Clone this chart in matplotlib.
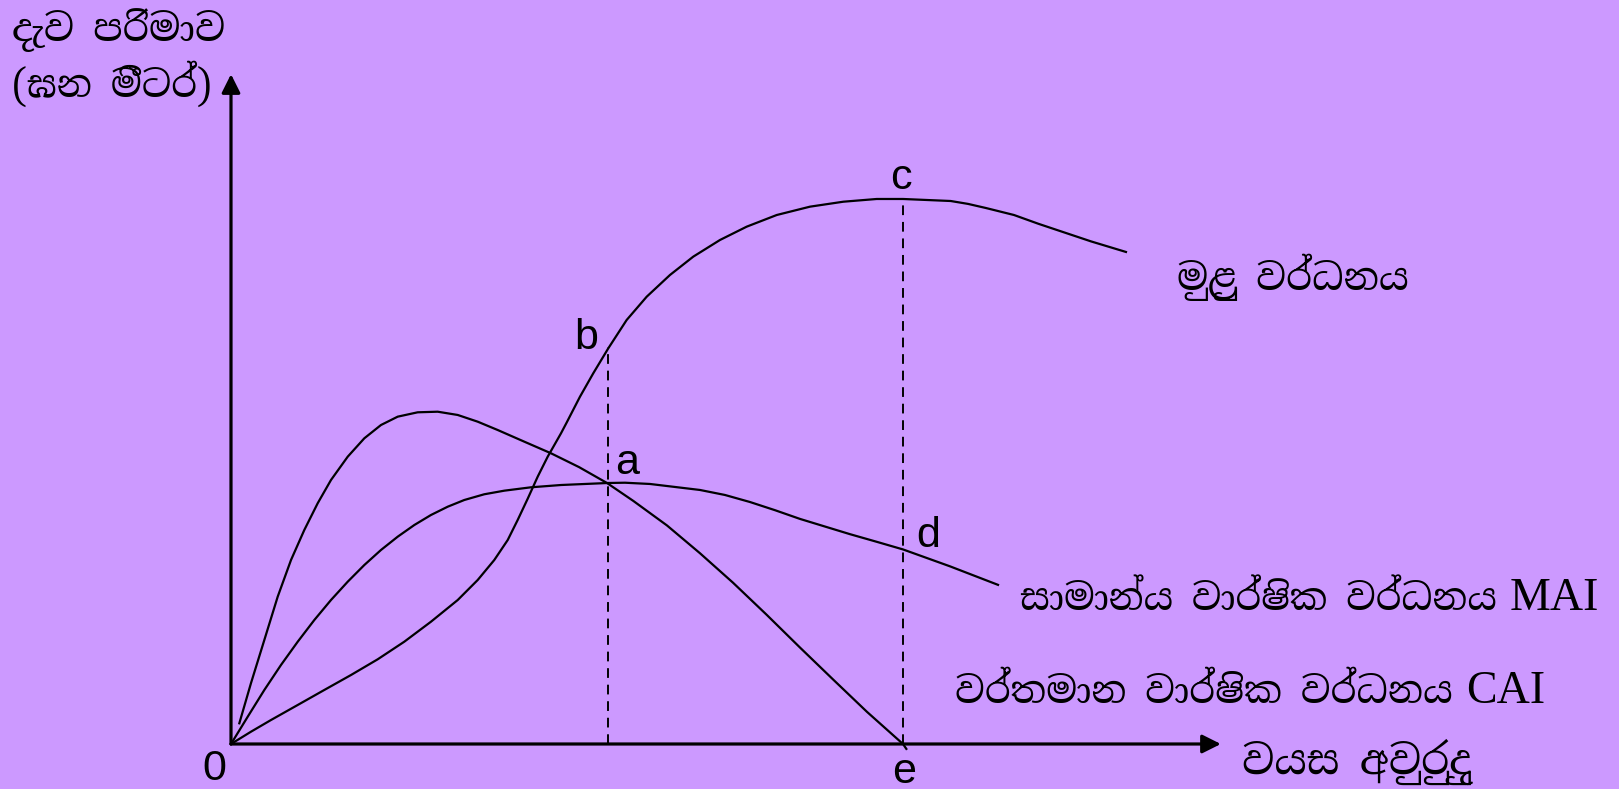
import matplotlib
matplotlib.use("Agg")
import matplotlib.pyplot as plt
from matplotlib import font_manager
from matplotlib.ft2font import FT2Font

# values: age (e = 100) and volume (c = 100)
total_age = [0, 2.98, 5.95, 9.93, 13.88, 17.86, 21.83, 25.79, 29.76, 33.74, 36.71, 39.18,
             41.18, 42.66, 44.15, 45.64, 47.13, 49.11, 49.96, 51.93, 53.91, 56.15, 58.88,
             61.86, 65.33, 68.79, 72.77, 76.74, 81.21, 86.16, 91.12, 96.09, 100, 107.10,
             109.67, 112.32, 116.52, 120.15, 127.98, 133.18]
total_vol = [0, 2.26, 4.40, 7.16, 9.91, 12.66, 15.54, 18.77, 22.44, 26.42, 30.09, 33.76,
             37.43, 41.10, 45.0, 49.05, 52.72, 57.01, 59.0, 63.72, 68.02, 72.61, 77.80,
             82.07, 86.06, 89.42, 92.48, 94.92, 97.06, 98.59, 99.50, 100, 100, 99.63,
             99.10, 98.35, 97.06, 95.45, 92.22, 90.28]

mai_age = [0, 2.49, 4.96, 7.44, 9.93, 12.40, 14.88, 17.37, 19.84, 22.32, 24.81, 27.28,
           29.76, 32.25, 34.72, 37.69, 40.67, 44.64, 49.11, 56.10, 58.63, 62.35, 69.79,
           73.51, 77.23, 80.95, 84.67, 88.39, 92.11, 96.09, 100, 106.99, 114.14]
mai_vol = [0, 5.01, 9.91, 14.50, 18.77, 22.75, 26.42, 29.78, 32.84, 35.60, 38.04, 40.18,
           42.02, 43.54, 44.77, 45.82, 46.48, 47.10, 47.52, 47.89, 47.94, 47.71, 46.61,
           45.69, 44.40, 42.9, 41.3, 39.9, 38.5, 37.1, 35.7, 32.6, 29.2]

cai_age = [1.24, 2.98, 4.96, 6.95, 8.93, 10.91, 12.90, 14.88, 17.37, 19.84, 22.32, 24.81,
           27.78, 30.76, 33.74, 36.71, 39.69, 43.65, 47.62, 51.8, 55.95, 59.87, 64.88,
           69.79, 74.70, 79.72, 84.67, 89.63, 94.64, 100, 100.5]
cai_vol = [3.80, 11.19, 19.08, 27.03, 33.76, 39.27, 44.17, 48.44, 52.72, 56.09, 58.53,
           60.06, 60.86, 60.97, 60.37, 59.14, 57.61, 55.47, 53.34, 50.8, 47.89, 44.6,
           40.1, 35.0, 29.6, 23.7, 17.7, 11.8, 5.9, 0, -0.9]

b_pt = (56.1, 72.8)
c_pt = (100, 100)

ylabel_1 = "දැව පරිමාව"
ylabel_2 = "(ඝන මීටර්)"
xlabel = "වයස අවුරුදු"
total_label = "මුළු වර්ධනය"
mai_label = "සාමාන්ය වාර්ෂික වර්ධනය"
cai_label = "වර්තමාන වාර්ෂික වර්ධනය"

# fonts that have sinhala letters, best first
found = []
for f in font_manager.fontManager.ttflist:
    try:
        if 0x0DB8 in FT2Font(f.fname).get_charmap() and f.name not in found:
            found.append(f.name)
    except Exception:
        pass
sinhala = "DejaVu Sans"
for want in ["Noto Serif Sinhala", "Noto Sans Sinhala", "Sinhala", "Abhaya"]:
    hits = [n for n in found if want in n]
    if hits:
        sinhala = hits[0]
        break
else:
    if found:
        sinhala = found[0]

bg = "#cc99ff"
W, H = 1619, 789
fig = plt.figure(figsize=(W / 100, H / 100), dpi=100, facecolor=bg)
ax = fig.add_axes([0, 0, 1, 1])
ax.set_facecolor(bg)
ax.set_xlim(-34.375, 206.55)
ax.set_ylim(-8.257, 136.51)
ax.axis("off")

def px(x, y):
    return x / W, 1 - y / H

# axes with arrows
arr = dict(arrowstyle="-|>", lw=2.3, color="black", mutation_scale=28, shrinkA=0, shrinkB=0)
ax.annotate("", xy=(0, 122.9), xytext=(0, 0), arrowprops=arr)
ax.annotate("", xy=(147.3, 0), xytext=(0, 0), arrowprops=arr)

ax.plot(total_age, total_vol, color="black", lw=1.6, solid_joinstyle="round")
ax.plot(mai_age, mai_vol, color="black", lw=1.6, solid_joinstyle="round")
ax.plot(cai_age, cai_vol, color="black", lw=1.6, solid_joinstyle="round")

ax.plot([b_pt[0], b_pt[0]], [0, b_pt[1]], color="black", lw=1.4, ls=(0, (5, 3.5)))
ax.plot([c_pt[0], c_pt[0]], [0, c_pt[1]], color="black", lw=1.4, ls=(0, (5, 3.5)))

lf = dict(family="Liberation Sans", fontsize=31, ha="center", va="center")
fig.text(*px(214, 769), "0", **lf)
fig.text(*px(586, 338), "b", **lf)
fig.text(*px(901, 178), "c", **lf)
fig.text(*px(627, 463), "a", **lf)
fig.text(*px(928, 536), "d", **lf)
fig.text(*px(904, 772), "e", **lf)

fig.canvas.draw()
renderer = fig.canvas.get_renderer()

def sin_text(x0, x1, y, s, maxsize=30):
    # sinhala text sized to span the same width as in the picture
    t = fig.text(*px(x0, y), s, family=[sinhala, "DejaVu Sans"], fontsize=25,
                 ha="left", va="baseline")
    w = t.get_window_extent(renderer).width
    t.set_fontsize(min(maxsize, 25 * (x1 - x0) / w))
    return t

sin_text(12, 225, 41, ylabel_1)
sin_text(12, 212, 97, ylabel_2)
sin_text(1177, 1409, 290, total_label)
sin_text(1242, 1471, 774, xlabel)
sin_text(1020, 1497, 610, mai_label)
sin_text(955, 1453, 703, cai_label)

fig.text(*px(1510, 610), "MAI", family="Liberation Serif", fontsize=33, ha="left", va="baseline")
fig.text(*px(1466, 703), "CAI", family="Liberation Serif", fontsize=33, ha="left", va="baseline")

fig.savefig("out.png", dpi=100, facecolor=bg)
